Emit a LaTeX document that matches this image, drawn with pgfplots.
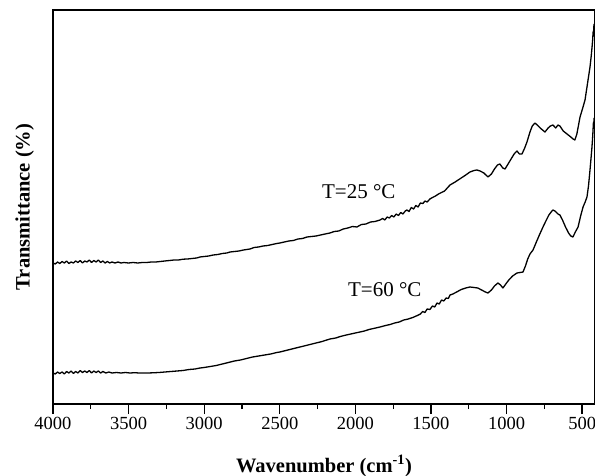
\documentclass[border=0pt]{standalone}
\usepackage{pgfplots}
\pgfplotsset{compat=1.18}
\usepackage{fontspec}
\setmainfont{Liberation Serif}
\begin{document}
\begin{tikzpicture}
\path[use as bounding box] (0,0) rectangle (595bp,476bp);
\begin{axis}[
  at={(53bp,72bp)}, anchor=south west,
  scale only axis, width=542bp, height=394bp,
  x dir=reverse, xmin=415, xmax=4000, ymin=0, ymax=394,
  xtick={500,1000,1500,2000,2500,3000,3500,4000},
  minor x tick num=1,
  ytick=\empty,
  xtick pos=bottom, tick align=outside,
  major tick length=10bp, minor tick length=5bp,
  axis line style={line width=1.5bp},
  every tick/.style={line width=1.3bp, black},
  /pgf/number format/assume math mode=true,
  /pgf/number format/1000 sep={},
  tick label style={font=\fontsize{18.5bp}{20bp}\selectfont},
  xlabel={\textbf{Wavenumber (cm\textsuperscript{-1})}},
  ylabel={\textbf{Transmittance (\%)}},
  label style={font=\fontsize{20.5bp}{24bp}\selectfont},
  xlabel style={at={(axis description cs:0.5,0)}, anchor=base, yshift=-68bp},
  ylabel style={at={(axis description cs:-0.052,0.5)}, anchor=center},
  clip=false,
]
\addplot[black, line width=1.3bp, line join=round] coordinates {
(4000,141) (3985,140) (3970,142) (3955,140.5) (3940,142.5) (3925,141) (3910,143) (3895,140.5)
(3880,142) (3865,141) (3850,143) (3835,141.5) (3820,143.5) (3805,141) (3790,143) (3775,142)
(3760,144) (3745,141.5) (3730,143.5) (3715,142) (3700,144) (3685,141.5) (3670,143) (3655,141)
(3640,142.5) (3625,141) (3610,142) (3590,141) (3570,142) (3550,141) (3530,141.5) (3500,141)
(3470,141.5) (3440,141) (3410,141.5) (3380,141.5) (3350,142) (3320,142) (3290,142.5) (3260,143)
(3230,143.5) (3200,144) (3170,144) (3140,144.8) (3110,145) (3080,145.5) (3050,146) (3028,147)
(3000,147.5) (2970,148) (2940,149) (2910,149.5) (2880,150.5) (2850,151) (2829,152) (2800,152.5)
(2770,153) (2740,154) (2697,155) (2670,156.5) (2640,157) (2610,158) (2580,158.5) (2550,159.5)
(2520,160.5) (2499,161) (2470,162) (2440,163) (2410,163.5) (2380,165) (2350,165.5) (2320,167)
(2290,167.5) (2260,168) (2230,169) (2200,170) (2168,171) (2140,172.5) (2110,173) (2080,175)
(2050,176) (2020,177.5) (1990,177) (1960,179.5) (1930,180) (1900,182) (1870,182.5) (1837,184)
(1820,185.5) (1805,184) (1790,187) (1775,186) (1760,188.5) (1745,187) (1730,190) (1715,188.5)
(1700,191.5) (1685,190) (1670,193) (1659,194) (1645,192.5) (1630,196.5) (1615,195) (1600,198.5)
(1585,197) (1570,201) (1553,200.5) (1540,203) (1525,202) (1507,205) (1490,206.5) (1470,208)
(1450,210) (1430,211.5) (1410,213) (1374,219) (1340,222) (1300,226) (1270,229) (1242,232)
(1215,233.5) (1196,234) (1175,233) (1150,231) (1123,227) (1100,230) (1080,235) (1060,239)
(1044,240) (1025,236) (1010,235) (990,240) (970,245) (950,250) (931,253) (915,250)
(898,250) (880,256) (865,262) (845,272) (830,278) (812,281) (790,278) (770,275)
(746,272) (725,276) (710,278) (693,279) (675,276) (660,279) (647,278) (625,273)
(600,270) (575,267) (560,265) (548,264) (535,270) (525,278) (514,287) (500,294)
(481,304) (470,315) (460,325) (448,337) (440,348) (435,356) (430,365) (428,371)
(426,373) (424,368) (423,377) (421,380)
};
\addplot[black, line width=1.3bp, line join=round] coordinates {
(4000,31) (3985,30) (3970,32) (3955,30.5) (3940,32) (3925,30) (3910,32.5) (3895,31)
(3880,33) (3865,30.5) (3850,32.5) (3835,31) (3820,33.5) (3805,31.5) (3790,33) (3775,31.5)
(3760,33.5) (3745,31) (3730,33) (3715,31.5) (3700,33) (3685,31) (3670,32.5) (3650,31)
(3630,32) (3610,31) (3580,31.5) (3550,31) (3520,31.5) (3490,31) (3460,31.3) (3430,31)
(3400,31) (3370,31) (3340,31.2) (3300,31.5) (3260,32) (3220,32.5) (3180,33) (3140,33.5)
(3100,34.5) (3060,35) (3028,36) (3000,36.5) (2960,37.5) (2920,38.5) (2880,40) (2840,41.5)
(2800,43) (2760,44) (2720,45.5) (2680,47) (2640,48) (2600,49) (2560,50) (2520,51.5)
(2499,52) (2460,53.5) (2420,55) (2380,56.5) (2340,58) (2300,59.5) (2260,61) (2220,62.5)
(2200,63.5) (2168,65) (2130,66) (2100,67.5) (2060,69) (2030,70) (2000,71) (1970,72)
(1940,73) (1910,74.5) (1880,75.5) (1837,77) (1800,78.5) (1770,79.5) (1740,81) (1710,82)
(1680,84) (1650,85) (1620,86.5) (1590,88.5) (1570,90) (1555,92.5) (1540,91.5) (1525,95)
(1507,94.5) (1490,98) (1475,97) (1460,101) (1445,100) (1430,104) (1415,103) (1400,106)
(1385,105.5) (1374,109) (1355,110) (1330,112) (1300,114.5) (1270,116) (1242,117) (1215,116.5)
(1190,116) (1165,114) (1140,112) (1123,111) (1100,114) (1080,118) (1057,121) (1040,119)
(1024,116) (1005,120) (985,124) (960,128) (931,131) (910,131.5) (891,132) (875,138)
(860,145) (845,150) (825,154) (800,163) (780,170) (759,177) (740,183) (720,189)
(700,193) (693,194) (680,193) (660,190) (647,189) (630,184) (610,177) (590,171)
(575,168) (561,167) (545,172) (527,177) (510,188) (494,197) (480,202) (468,207)
(458,218) (448,234) (440,248) (435,257) (430,268) (428,274) (425,282) (423,278) (421,286)
};
\node[anchor=base west, inner sep=0pt, font=\fontsize{21bp}{24bp}\selectfont] at (axis cs:2221,205) {T=25~°C};
\node[anchor=base west, inner sep=0pt, font=\fontsize{21bp}{24bp}\selectfont] at (axis cs:2049,107) {T=60~°C};
\end{axis}
\end{tikzpicture}
\end{document}
